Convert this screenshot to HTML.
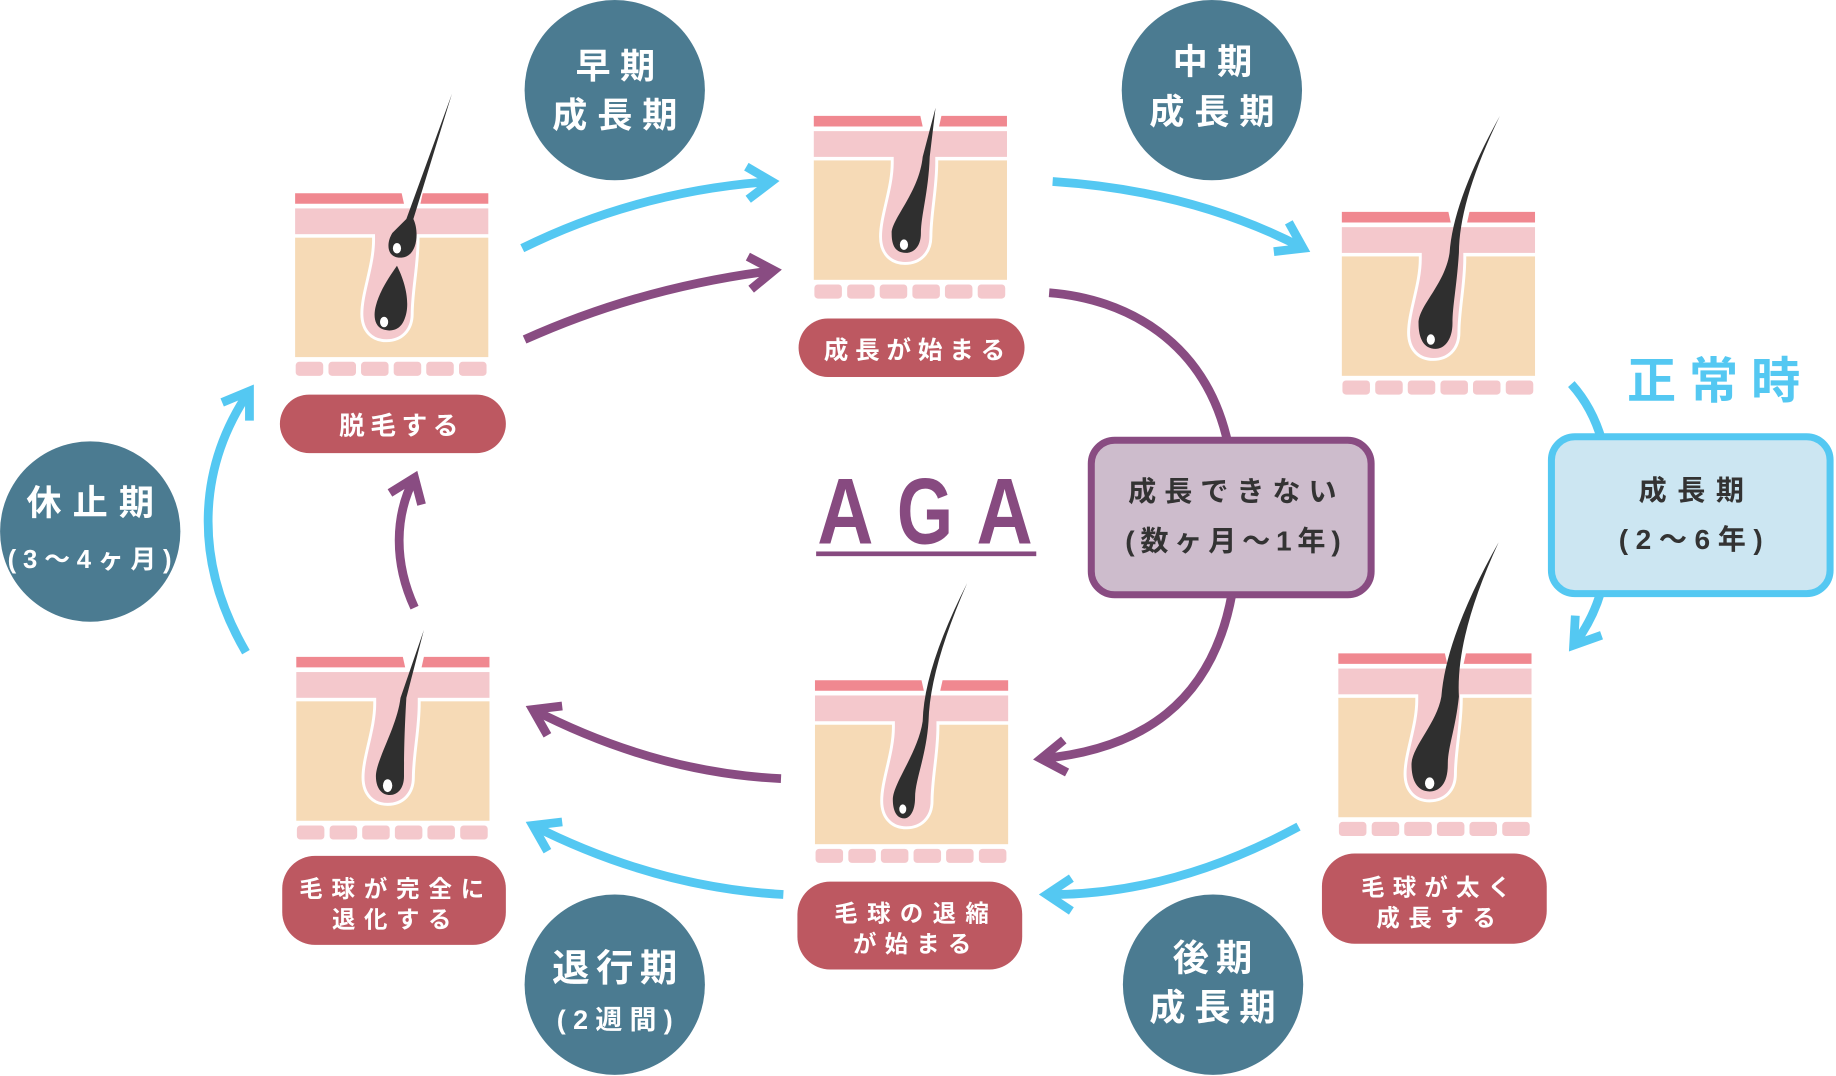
<!DOCTYPE html>
<html><head><meta charset="utf-8">
<style>
html,body{margin:0;padding:0;background:#fff;width:1836px;height:1076px;overflow:hidden}
svg{display:block}
text{font-family:"Liberation Sans","Noto Sans CJK JP",sans-serif;font-weight:bold}
.w{fill:#fff}
.d{fill:#333}
.cy{fill:none;stroke:#54c8f2;stroke-width:7.5;stroke-linecap:butt;stroke-linejoin:miter}
.pu{fill:none;stroke:#894c82;stroke-width:7.5;stroke-linecap:butt;stroke-linejoin:miter}
.hair{fill:#2f2f2f}
</style></head>
<body>
<svg width="1836" height="1076" viewBox="0 0 1568 919" xmlns="http://www.w3.org/2000/svg">
<defs>
<g id="skin">
<rect x="0" y="38" width="165" height="102" fill="#f6dab6"/>
<path d="M67,32 L67,40 C67,62 57,85 57,103 C57,118 66,126 78,126 C91,126 100,117 100,103 C100,84 105,62 105,40 L105,32 Z" fill="#f4c8cc" stroke="#fff" stroke-width="2.5"/>
<rect x="0" y="13" width="165" height="22" fill="#f4c8cc"/>
<path d="M0,0 H91 L93,9 H0 Z" fill="#f08890"/>
<path d="M109,0 H165 V9 H107 Z" fill="#f08890"/>
<rect x="0.5" y="144" width="23.5" height="12" rx="3" fill="#f4c8cc"/>
<rect x="28.5" y="144" width="23.5" height="12" rx="3" fill="#f4c8cc"/>
<rect x="56.3" y="144" width="23.5" height="12" rx="3" fill="#f4c8cc"/>
<rect x="84.2" y="144" width="23.5" height="12" rx="3" fill="#f4c8cc"/>
<rect x="112" y="144" width="23.5" height="12" rx="3" fill="#f4c8cc"/>
<rect x="140" y="144" width="23.5" height="12" rx="3" fill="#f4c8cc"/>
</g>
</defs>

<!-- Arrows -->
<path class="cy" d="M446,212 Q545,163 659,155"/>
<polyline class="cy" points="637.4,142.4 659,155 639,170.2"/>
<path class="pu" d="M448,290 Q548,245 661,231"/>
<polyline class="pu" points="638.7,219.2 661,231 641.5,247"/>
<path class="cy" d="M899,155 Q1020,163 1113,212"/>
<polyline class="cy" points="1100.7,189.9 1113,212 1087.9,214.9"/>
<path class="pu" d="M896,250 C960,255 1030,290 1049,380"/>
<path class="pu" d="M1052,508 C1035,600 975,640 889,648"/>
<polyline class="pu" points="908.5,632 889,648 911.3,659.8"/>
<path class="cy" d="M1342,328 Q1360,348 1368,376"/>
<path class="cy" d="M1367,506 Q1360,530 1344,551"/>
<polyline class="cy" points="1345.4,525.8 1344,551 1367.8,542.6"/>
<path class="cy" d="M1109,706 Q1000,765 894,764"/>
<polyline class="cy" points="915,750 894,764 915,778"/>
<path class="pu" d="M667,665 Q560,660 455,606"/>
<polyline class="pu" points="480.1,603 455,606 467.5,628"/>
<path class="cy" d="M669,764 Q560,758 455,705"/>
<polyline class="cy" points="480.1,702 455,705 467.5,727"/>
<path class="cy" d="M210,557 C165,480 168,400 213,334"/>
<polyline class="cy" points="189.7,343.7 213,334 213,359.3"/>
<path class="pu" d="M354,519 C336,480 337,440 354,408"/>
<polyline class="pu" points="333,421 354,408 360,431"/>

<!-- Panels -->
<g transform="translate(252,165)">
<use href="#skin"/>
<path class="hair" d="M134,-85 L101,22 C106,32 105,54 91,55 C79,56 77,44 83,34 L95,22 Z"/>
<ellipse cx="87" cy="47" rx="3.5" ry="4.5" fill="#fff"/>
<path class="hair" d="M87,62 C97,82 97,98 94,106 C91,116 84,118 78,117 C69,116 66,107 69,96 C72,84 80,72 87,62 Z"/>
<ellipse cx="76" cy="110" rx="3.5" ry="4.5" fill="#fff"/>
</g>
<g transform="translate(695,99)">
<use href="#skin"/>
<path class="hair" d="M104,-7 L99,35 C98,65 91.5,85 91.5,100 C91.5,113 84,117 79,117 C68,117 66.5,108 66.5,100 C66.5,88 90,65 93,35 Z"/>
<ellipse cx="77" cy="110" rx="3.5" ry="4.5" fill="#fff"/>
</g>
<g transform="translate(1146,181)">
<use href="#skin"/>
<path class="hair" d="M135,-82 Q100,-10 100,35 C98,65 94.5,80 94.5,95 C94.5,110 87,117 80,117 C70,117 65.5,108 65.5,95 C65.5,80 88,62 92,35 Q95,-10 135,-82 Z"/>
<ellipse cx="76" cy="109" rx="3.5" ry="4.5" fill="#fff"/>
</g>
<g transform="translate(1143,558)">
<use href="#skin"/>
<path class="hair" d="M137,-95 Q100,-15 103,37 C100,65 93.5,80 93.5,95 C93.5,112 86,118 78,118 C67,118 62.5,108 62.5,95 C62.5,80 84,60 88,37 Q92,-15 137,-95 Z"/>
<ellipse cx="78" cy="111" rx="4" ry="5" fill="#fff"/>
</g>
<g transform="translate(696,581)">
<use href="#skin"/>
<path class="hair" d="M130,-83 Q98,-10 97,35 C95,65 85.5,85 85.5,100 C85.5,112 81,118 76,118 C69,118 66.5,110 66.5,102 C66.5,88 88,62 92,35 Q93,-10 130,-83 Z"/>
<ellipse cx="75" cy="110" rx="3" ry="4" fill="#fff"/>
</g>
<g transform="translate(253,561)">
<use href="#skin"/>
<path class="hair" d="M109,-23 L94,35 C92,70 92,88 92,102 C92,113 86,118 80,118 C72,118 68,111 68,102 C68,88 86,60 89,35 Z"/>
<ellipse cx="78" cy="110" rx="4" ry="5.5" fill="#fff"/>
</g>

<!-- Labels -->
<g fill="#bd5861">
<rect x="239" y="337" width="193" height="50" rx="25"/>
<rect x="682" y="272" width="193" height="50" rx="25"/>
<rect x="241" y="731" width="191" height="76" rx="28"/>
<rect x="681" y="753" width="192" height="75" rx="28"/>
<rect x="1129" y="729" width="192" height="77" rx="28"/>
</g>
<text class="w" x="340.5" y="371" font-size="22" text-anchor="middle" textLength="102" lengthAdjust="spacing">脱毛する</text>
<text class="w" x="781" y="306" font-size="21" text-anchor="middle" textLength="155" lengthAdjust="spacing">成長が始まる</text>
<text class="w" x="334.5" y="766" font-size="20" text-anchor="middle" textLength="158" lengthAdjust="spacing">毛球が完全に</text>
<text class="w" x="334.5" y="792" font-size="20" text-anchor="middle" textLength="102" lengthAdjust="spacing">退化する</text>
<text class="w" x="778.5" y="787" font-size="20" text-anchor="middle" textLength="132" lengthAdjust="spacing">毛球の退縮</text>
<text class="w" x="779" y="813" font-size="20" text-anchor="middle" textLength="101" lengthAdjust="spacing">が始まる</text>
<text class="w" x="1226.5" y="765" font-size="20" text-anchor="middle" textLength="128" lengthAdjust="spacing">毛球が太く</text>
<text class="w" x="1226.5" y="791" font-size="20" text-anchor="middle" textLength="102" lengthAdjust="spacing">成長する</text>

<!-- Circles -->
<g fill="#4b7b91">
<circle cx="525" cy="77" r="77"/>
<circle cx="1035" cy="77" r="77"/>
<circle cx="77" cy="454" r="77"/>
<circle cx="525" cy="841" r="77"/>
<circle cx="1036" cy="841" r="77"/>
</g>
<text class="w" x="525.5" y="67" font-size="30" text-anchor="middle" textLength="68" lengthAdjust="spacing">早期</text>
<text class="w" x="525" y="109" font-size="30" text-anchor="middle" textLength="107" lengthAdjust="spacing">成長期</text>
<text class="w" x="1035.5" y="63" font-size="30" text-anchor="middle" textLength="68" lengthAdjust="spacing">中期</text>
<text class="w" x="1035" y="106" font-size="30" text-anchor="middle" textLength="107" lengthAdjust="spacing">成長期</text>
<text class="w" x="1035.5" y="829" font-size="31" text-anchor="middle" textLength="68" lengthAdjust="spacing">後期</text>
<text class="w" x="1035.5" y="871" font-size="31" text-anchor="middle" textLength="108" lengthAdjust="spacing">成長期</text>
<text class="w" x="77" y="440" font-size="30" text-anchor="middle" textLength="109" lengthAdjust="spacing">休止期</text>
<text class="w" x="76.5" y="485" font-size="22" text-anchor="middle" textLength="140" lengthAdjust="spacing">(3〜4ヶ月)</text>
<text class="w" x="525" y="838" font-size="32" text-anchor="middle" textLength="107" lengthAdjust="spacing">退行期</text>
<text class="w" x="525" y="879" font-size="23" text-anchor="middle" textLength="99" lengthAdjust="spacing">(2週間)</text>

<!-- Boxes -->
<rect x="932" y="376" width="239" height="132" rx="20" fill="#cdbccc" stroke="#894c82" stroke-width="6"/>
<rect x="1325" y="373" width="238" height="134" rx="20" fill="#cce6f2" stroke="#54c8f2" stroke-width="6"/>
<text class="d" x="1052.5" y="428" font-size="24" text-anchor="middle" textLength="178" lengthAdjust="spacing">成長できない</text>
<text class="d" x="1053" y="470" font-size="24" text-anchor="middle" textLength="184" lengthAdjust="spacing">(数ヶ月〜1年)</text>
<text class="d" x="1444.5" y="427" font-size="24" text-anchor="middle" textLength="90" lengthAdjust="spacing">成長期</text>
<text class="d" x="1444" y="469" font-size="24" text-anchor="middle" textLength="123" lengthAdjust="spacing">(2〜6年)</text>
<text x="1463.5" y="340" font-size="42" fill="#54c8f2" text-anchor="middle" textLength="148" lengthAdjust="spacing">正常時</text>

<!-- AGA -->
<g fill="#874a80">
<text x="698" y="464" font-size="80" textLength="48" lengthAdjust="spacingAndGlyphs">A</text>
<text x="766" y="464" font-size="80" textLength="48" lengthAdjust="spacingAndGlyphs">G</text>
<text x="834" y="464" font-size="80" textLength="48" lengthAdjust="spacingAndGlyphs">A</text>
<rect x="697" y="471" width="188" height="4"/>
</g>
</svg>
</body></html>
